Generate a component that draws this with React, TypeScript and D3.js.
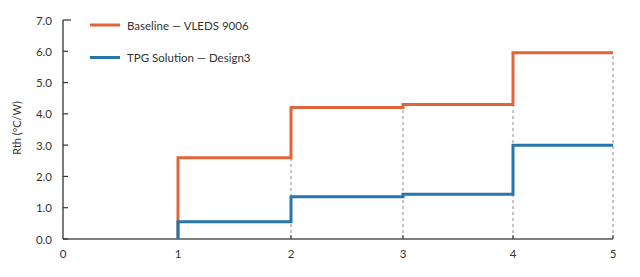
import React from "react";
import * as d3 from "d3";

const xTicks = [0, 1, 2, 3, 4, 5];
const yTicks = [0, 1, 2, 3, 4, 5, 6, 7];
const seriesNames = ["Baseline — VLEDS 9006", "TPG Solution — Design3"];
const stepX = [1, 2, 3, 4, 5];
const baselineValues = [2.6, 4.2, 4.3, 5.95];
const tpgValues = [0.55, 1.35, 1.43, 3.0];
const colors = ["#E0653B", "#2676AD"];

const W = 640;
const H = 277;
const FONT = "Lato, 'Open Sans', sans-serif";

export default function App() {
  const x = d3.scaleLinear().domain(xTicks).range([63, 178, 291, 403, 513, 613]);
  const y = d3.scaleLinear().domain([0, 7]).range([239, 20]);

  const stepPath = (vals: number[]) => {
    const pts: [number, number][] = [[stepX[0], 0]];
    vals.forEach((v, i) => {
      pts.push([stepX[i], v]);
      pts.push([stepX[i + 1], v]);
    });
    return d3
      .line<[number, number]>()
      .x((d) => x(d[0]))
      .y((d) => y(d[1]))(pts) as string;
  };

  const dashX = [2, 3, 4, 5];
  const dashTop = (xv: number) => {
    const i = stepX.indexOf(xv);
    return baselineValues[i - 1] ?? 0;
  };

  const series = [baselineValues, tpgValues];

  return (
    <svg width={W} height={H} style={{ position: "absolute", left: 0, top: 0, background: "#fff" }}>
      {dashX.map((xv) => (
        <line
          key={"d" + xv}
          x1={x(xv)}
          x2={x(xv)}
          y1={y(0)}
          y2={y(dashTop(xv))}
          stroke="#8a8a8a"
          strokeWidth={1}
          strokeDasharray="3,3"
        />
      ))}
      <line x1={x(0)} x2={x(5)} y1={y(0)} y2={y(0)} stroke="#555" strokeWidth={1.3} />
      <line x1={x(0)} x2={x(0)} y1={y(0)} y2={y(7)} stroke="#333" strokeWidth={1.3} />
      {yTicks.map((t) => (
        <g key={"y" + t}>
          <line x1={x(0)} x2={x(0) + (t === 7 ? 8 : 5)} y1={y(t)} y2={y(t)} stroke="#333" strokeWidth={1.2} />
          <text
            x={52}
            y={y(t)}
            textAnchor="end"
            dominantBaseline="central"
            fontFamily={FONT}
            fontSize={11.5}
            fill="#333"
          >
            {t.toFixed(1)}
          </text>
        </g>
      ))}
      {xTicks.map((t) => (
        <g key={"x" + t}>
          {t > 0 && (
            <line x1={x(t)} x2={x(t)} y1={y(0)} y2={y(0) - 4} stroke="#333" strokeWidth={1} />
          )}
          <text
            x={x(t)}
            y={253}
            textAnchor="middle"
            dominantBaseline="central"
            fontFamily={FONT}
            fontSize={11.5}
            fill="#333"
          >
            {t}
          </text>
        </g>
      ))}
      <text
        transform={`translate(16,128) rotate(-90)`}
        textAnchor="middle"
        dominantBaseline="central"
        fontFamily={FONT}
        fontSize={11}
        fill="#333"
      >
        Rth (ºC/W)
      </text>
      {series.map((vals, i) => (
        <path
          key={"s" + i}
          d={stepPath(vals)}
          fill="none"
          stroke={colors[i]}
          strokeWidth={3}
          strokeLinejoin="miter"
        />
      ))}
      {seriesNames.map((name, i) => (
        <g key={"l" + i} transform={`translate(90,${25 + i * 32.5})`}>
          <line x1={0} x2={30} y1={0} y2={0} stroke={colors[i]} strokeWidth={3} />
          <text x={37} y={0} dominantBaseline="central" fontFamily={FONT} fontSize={11.5} fill="#333">
            {name}
          </text>
        </g>
      ))}
    </svg>
  );
}
